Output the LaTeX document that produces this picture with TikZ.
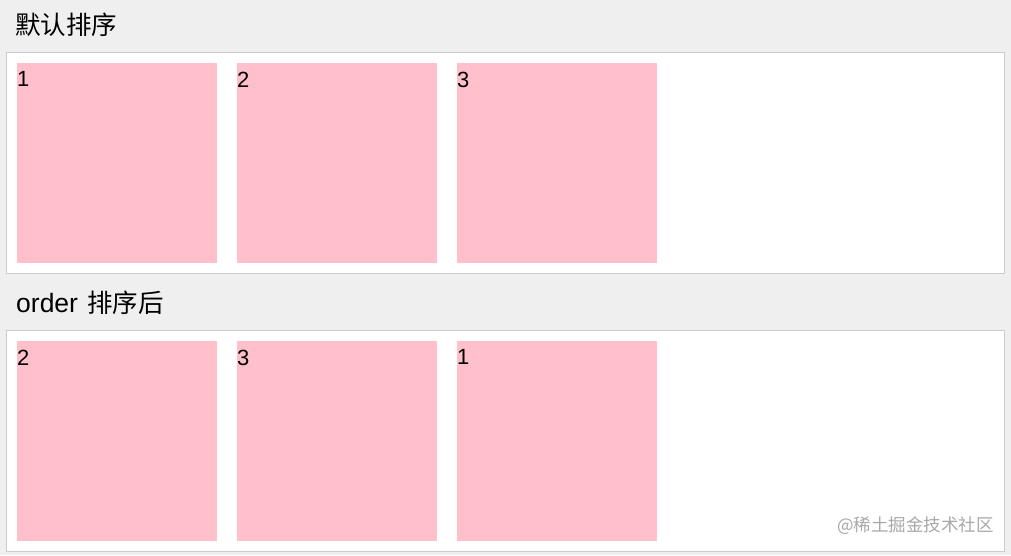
\documentclass[tikz,border=0pt]{standalone}
\usepackage{fontspec}
\setmainfont{Noto Sans CJK SC}
\newfontfamily\latinfont{Liberation Sans}
\definecolor{bg}{HTML}{EFEFEF}
\definecolor{frame}{HTML}{CCCCCC}
\definecolor{pinkbox}{HTML}{FFC0CB}
\definecolor{wm}{HTML}{A8A8A8}
\tikzset{
  panel/.style={draw=frame, line width=1pt, fill=white},
  item/.style={fill=pinkbox, draw=none},
  num/.style={anchor=north west, inner sep=0pt, font=\latinfont\fontsize{22}{22}\selectfont},
  title/.style={anchor=west, inner sep=0pt, font=\fontsize{25.5}{25.5}\selectfont},
}
\begin{document}
\begin{tikzpicture}[x=1pt,y=-1pt]
\fill[bg] (0,0) rectangle (1011,555);
\useasboundingbox (0,0) rectangle (1011,555);
\node[title] (t1) at (15,24.5) {默认排序};
\draw[panel] (6.5,52.5) rectangle (1004.5,273.5);
\foreach \i/\x/\lab in {1/17/1,2/237/2,3/457/3}{
  \fill[item] (\x,63) rectangle ++(200,200);
  \node[num] (a\i) at (\x,71.5) {\lab};
}
\node[title] (t2) at (16,302.5) {{\latinfont\fontsize{26.5}{26.5}\selectfont order}\hspace{9pt}排序后};
\draw[panel] (6.5,330.5) rectangle (1004.5,551.5);
\foreach \i/\x/\lab in {1/17/2,2/237/3,3/457/1}{
  \fill[item] (\x,341) rectangle ++(200,200);
  \node[num] (b\i) at (\x,349.5) {\lab};
}
\node[anchor=east, inner sep=0pt, text=wm, font=\fontsize{17.5}{17.5}\selectfont] (w) at (994,526) {@稀土掘金技术社区};
\end{tikzpicture}
\end{document}
